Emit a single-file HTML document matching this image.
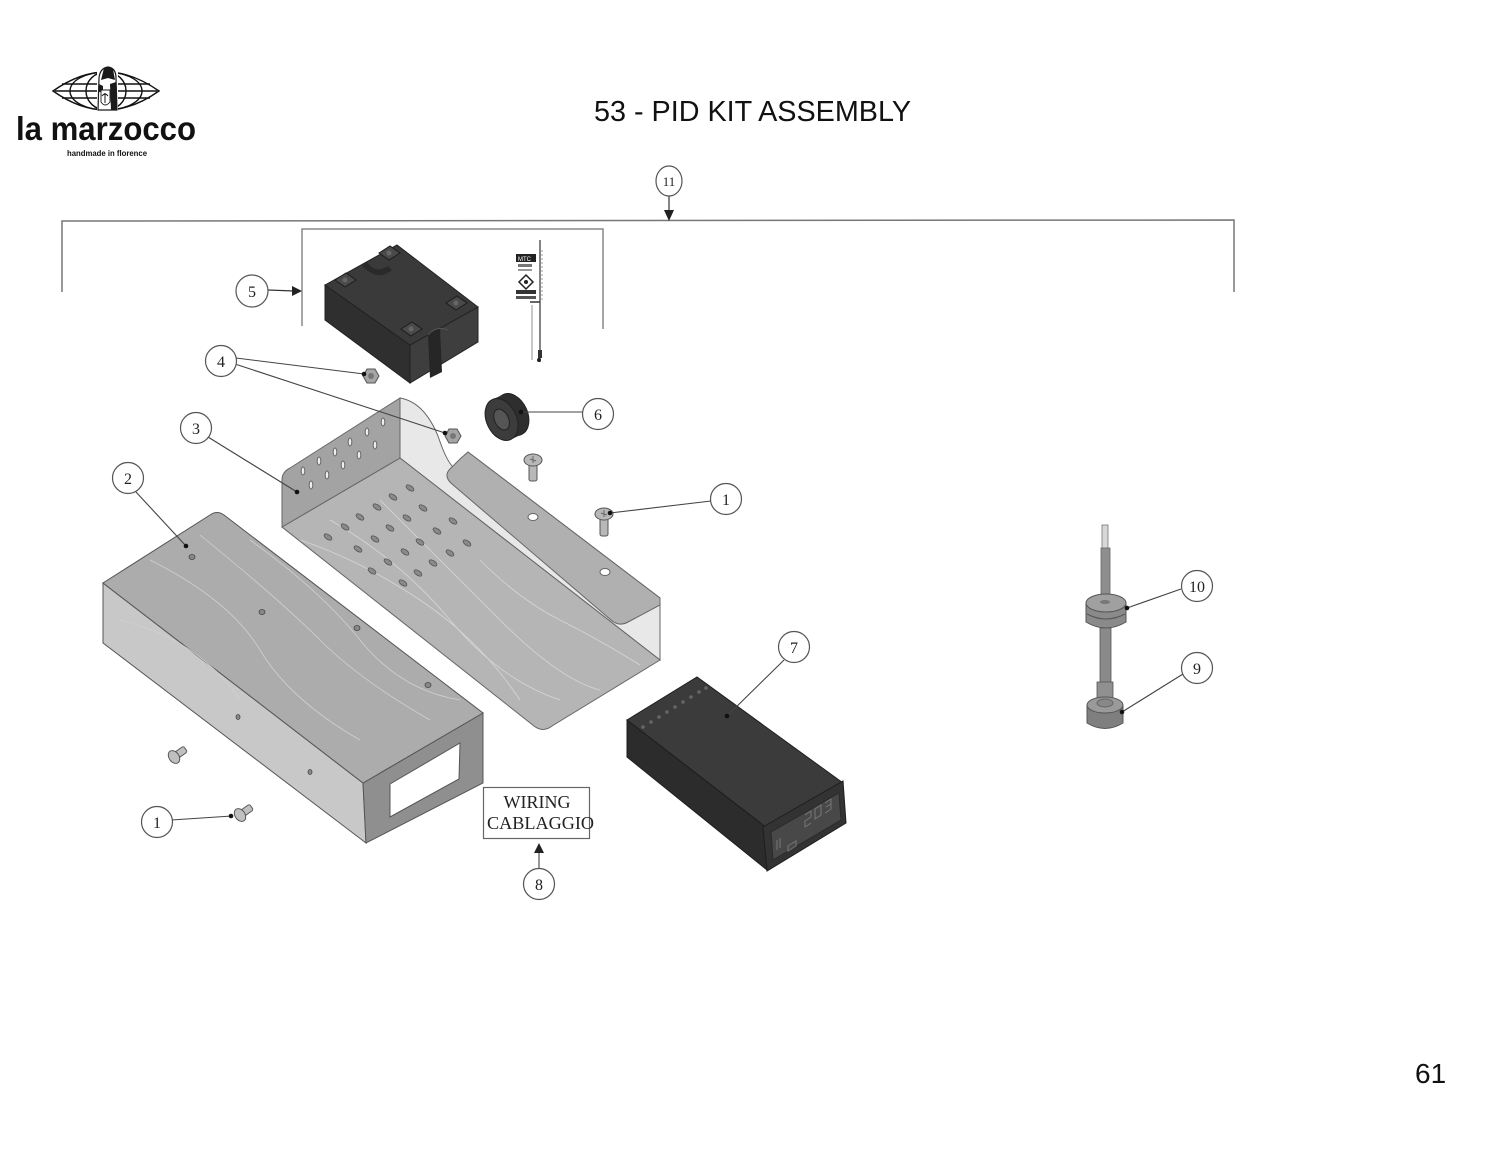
<!DOCTYPE html>
<html>
<head>
<meta charset="utf-8">
<style>
html,body{margin:0;padding:0;background:#fff;}
body{width:1500px;height:1159px;overflow:hidden;}
svg{display:block;}
text{font-family:"Liberation Serif",serif;}
</style>
</head>
<body>
<svg width="1500" height="1159" viewBox="0 0 1500 1159" xmlns="http://www.w3.org/2000/svg">
<rect width="1500" height="1159" fill="#fff"/>

<!-- ===== LOGO ===== -->
<g stroke="#111" fill="none" stroke-width="1.4">
  <path d="M53,91 Q80,72 106,72 Q132,72 159,91 Q132,110 106,110 Q80,110 53,91 Z"/>
  <ellipse cx="106" cy="91" rx="36" ry="19"/>
  <ellipse cx="106" cy="91" rx="20" ry="19"/>
  <line x1="62" y1="84" x2="150" y2="84"/>
  <line x1="55" y1="91" x2="157" y2="91"/>
  <line x1="62" y1="98" x2="150" y2="98"/>
</g>
<rect x="97" y="65" width="21" height="46" fill="#fff"/>
<g stroke="#1a1a1a" stroke-width="1.2" fill="#fff">
  <path d="M99,78 Q100,68 108,67 Q116,68 116,78 L117,110 L98,110 Z"/>
</g>
<g fill="#1a1a1a">
  <path d="M104,68 Q108,66 113,69 L115,80 L108,78 L101,80 Z"/>
  <path d="M110,84 L116,82 L117,110 L111,110 Z"/>
  <path d="M99,84 L103,86 L103,92 L99,92 Z"/>
</g>
<path d="M101,90 L110,90 L110,102 Q105,108 101,102 Z" fill="#fff" stroke="#1a1a1a" stroke-width="0.9"/>
<path d="M105,93 L105,103 M102,96 Q105,92 108,96" stroke="#1a1a1a" stroke-width="1" fill="none"/>
<text x="16" y="140" font-weight="bold" font-size="33" textLength="180" lengthAdjust="spacingAndGlyphs" fill="#111" style="font-family:'Liberation Sans Narrow','Liberation Sans',sans-serif">la marzocco</text>
<text x="67" y="156" font-weight="bold" font-size="8" textLength="80" lengthAdjust="spacingAndGlyphs" fill="#111" style="font-family:'Liberation Sans',sans-serif">handmade in florence</text>

<!-- ===== TITLE ===== -->
<text x="594" y="121" font-size="29" textLength="317" lengthAdjust="spacingAndGlyphs" fill="#111" style="font-family:'Liberation Sans',sans-serif">53 - PID KIT ASSEMBLY</text>
<text x="1415" y="1083" font-size="28" fill="#111" style="font-family:'Liberation Sans',sans-serif">61</text>

<!-- ===== BRACKET 11 ===== -->
<g stroke="#777" stroke-width="1.5" fill="none">
  <polyline points="62,292 62,221 1234,220 1234,292"/>
</g>
<g stroke="#888" stroke-width="1.5" fill="none">
  <polyline points="302,326 302,229 603,229 603,329"/>
</g>
<line x1="669" y1="195" x2="669" y2="212" stroke="#333" stroke-width="1.2"/>
<polygon points="664,210 674,210 669,221" fill="#222"/>
<ellipse cx="669" cy="181" rx="13" ry="15" fill="#fff" stroke="#555" stroke-width="1.2"/>
<text x="669" y="186" font-size="13" text-anchor="middle" fill="#222">11</text>

<!-- ===== PART 5 RELAY ===== -->
<g stroke="#222" stroke-width="1">
  <polygon points="325,285 410,345 410,383 325,320" fill="#2f2f2f"/>
  <polygon points="410,345 478,307 478,342 410,383" fill="#3e3e3e"/>
  <polygon points="325,285 397,245 478,307 410,345" fill="#3a3a3a"/>
</g>
<path d="M367,262 Q375,274 388,266 L392,270 Q378,282 362,266 Z" fill="#2a2a2a"/>
<path d="M428,335 L440,328 L442,372 L430,378 Z" fill="#262626"/>
<path d="M428,335 Q436,325 448,330" stroke="#555" fill="none"/>
<g fill="#4a4a4a" stroke="#1c1c1c" stroke-width="1">
  <polygon points="335,280 346,273 356,280 345,287"/>
  <polygon points="379,253 390,246 400,253 389,260"/>
  <polygon points="446,303 457,296 467,303 456,310"/>
  <polygon points="401,329 412,322 422,329 411,336"/>
</g>
<g fill="#666">
  <circle cx="345" cy="280" r="2.5"/><circle cx="389" cy="253" r="2.5"/>
  <circle cx="456" cy="303" r="2.5"/><circle cx="411" cy="329" r="2.5"/>
</g>
<!-- sticker strip -->
<g>
  <line x1="540" y1="240" x2="540" y2="362" stroke="#333" stroke-width="1.2"/>
  <line x1="542" y1="250" x2="542" y2="300" stroke="#888" stroke-width="0.8" stroke-dasharray="2,2"/>
  <rect x="516" y="254" width="20" height="8" fill="#222"/>
  <text x="518" y="261" font-size="6" fill="#fff" style="font-family:'Liberation Sans',sans-serif">MTC</text>
  <rect x="518" y="264" width="14" height="3" fill="#777"/>
  <rect x="518" y="269" width="14" height="2" fill="#999"/>
  <polygon points="526,275 533,282 526,289 519,282" fill="none" stroke="#222" stroke-width="1.5"/>
  <circle cx="526" cy="282" r="2" fill="#222"/>
  <rect x="516" y="290" width="20" height="4" fill="#333"/>
  <rect x="516" y="296" width="20" height="3" fill="#555"/>
  <line x1="530" y1="302" x2="540" y2="302" stroke="#333" stroke-width="1.5"/>
  <line x1="532" y1="305" x2="532" y2="360" stroke="#777" stroke-width="0.8"/>
  <rect x="538" y="350" width="4" height="8" fill="#333"/>
  <circle cx="539" cy="360" r="2" fill="#222"/>
</g>

<!-- circle 5 -->
<line x1="268" y1="290" x2="294" y2="291" stroke="#333" stroke-width="1.2"/>
<polygon points="292,286 292,296 302,291" fill="#222"/>
<circle cx="252" cy="291" r="16" fill="#fff" stroke="#555" stroke-width="1.2"/>
<text x="252" y="297" font-size="16" text-anchor="middle" fill="#222">5</text>

<!-- ===== PART 3 TRAY ===== -->
<g stroke="#666" stroke-width="1">
  <path d="M400,398 Q424,402 438,436 Q448,466 456,469 L462,467 L468,452 L660,598 L660,660 L400,458 Z" fill="#e8e8e8"/>
  <path d="M282,527 L400,458 L660,660 L552,726 Q543,733 534,726 Z" fill="#b5b5b5"/>
  <path d="M282,527 L282,480 Q282,472 290,468 L400,398 L400,458 Z" fill="#a3a3a3"/>
  <path d="M452,484 Q443,476 450,469 L460,459 L468,452 L660,598 L660,605 L628,622 Q619,627 611,620 Z" fill="#b0b0b0"/>
</g>
<g stroke="#d6d6d6" stroke-width="0.8" fill="none">
  <path d="M300,540 Q360,560 420,600 T520,700"/>
  <path d="M330,520 Q400,560 450,620 T560,700"/>
  <path d="M380,500 Q440,560 500,620 T600,690"/>
  <path d="M480,560 Q520,600 560,620 T640,665"/>
</g>
<ellipse cx="533" cy="517" rx="5" ry="3.5" fill="#fff" stroke="#666"/>
<ellipse cx="605" cy="572" rx="5" ry="3.5" fill="#fff" stroke="#666"/>
<g fill="#eee" stroke="#666" stroke-width="1">
  <ellipse cx="383" cy="422" rx="1.8" ry="4"/><ellipse cx="367" cy="432" rx="1.8" ry="4"/>
  <ellipse cx="350" cy="442" rx="1.8" ry="4"/><ellipse cx="335" cy="452" rx="1.8" ry="4"/>
  <ellipse cx="319" cy="461" rx="1.8" ry="4"/><ellipse cx="303" cy="471" rx="1.8" ry="4"/>
  <ellipse cx="375" cy="445" rx="1.8" ry="4"/><ellipse cx="359" cy="455" rx="1.8" ry="4"/>
  <ellipse cx="343" cy="465" rx="1.8" ry="4"/><ellipse cx="327" cy="475" rx="1.8" ry="4"/>
  <ellipse cx="311" cy="485" rx="1.8" ry="4"/>
</g>
<g fill="#8a8a8a" stroke="#555" stroke-width="0.8">
  <g transform="translate(410,488) rotate(35)"><ellipse rx="4.5" ry="2.3"/></g>
  <g transform="translate(393,497) rotate(35)"><ellipse rx="4.5" ry="2.3"/></g>
  <g transform="translate(377,507) rotate(35)"><ellipse rx="4.5" ry="2.3"/></g>
  <g transform="translate(360,517) rotate(35)"><ellipse rx="4.5" ry="2.3"/></g>
  <g transform="translate(345,527) rotate(35)"><ellipse rx="4.5" ry="2.3"/></g>
  <g transform="translate(328,537) rotate(35)"><ellipse rx="4.5" ry="2.3"/></g>
  <g transform="translate(423,508) rotate(35)"><ellipse rx="4.5" ry="2.3"/></g>
  <g transform="translate(407,518) rotate(35)"><ellipse rx="4.5" ry="2.3"/></g>
  <g transform="translate(390,528) rotate(35)"><ellipse rx="4.5" ry="2.3"/></g>
  <g transform="translate(375,539) rotate(35)"><ellipse rx="4.5" ry="2.3"/></g>
  <g transform="translate(358,549) rotate(35)"><ellipse rx="4.5" ry="2.3"/></g>
  <g transform="translate(453,521) rotate(35)"><ellipse rx="4.5" ry="2.3"/></g>
  <g transform="translate(437,531) rotate(35)"><ellipse rx="4.5" ry="2.3"/></g>
  <g transform="translate(420,542) rotate(35)"><ellipse rx="4.5" ry="2.3"/></g>
  <g transform="translate(405,552) rotate(35)"><ellipse rx="4.5" ry="2.3"/></g>
  <g transform="translate(388,562) rotate(35)"><ellipse rx="4.5" ry="2.3"/></g>
  <g transform="translate(372,571) rotate(35)"><ellipse rx="4.5" ry="2.3"/></g>
  <g transform="translate(467,543) rotate(35)"><ellipse rx="4.5" ry="2.3"/></g>
  <g transform="translate(450,553) rotate(35)"><ellipse rx="4.5" ry="2.3"/></g>
  <g transform="translate(433,563) rotate(35)"><ellipse rx="4.5" ry="2.3"/></g>
  <g transform="translate(418,573) rotate(35)"><ellipse rx="4.5" ry="2.3"/></g>
  <g transform="translate(403,583) rotate(35)"><ellipse rx="4.5" ry="2.3"/></g>
</g>

<!-- nuts (4) -->
<g fill="#a5a5a5" stroke="#555" stroke-width="1">
  <polygon points="363,376 367,369 375,369 379,376 375,383 367,383"/>
  <polygon points="445,436 449,429 457,429 461,436 457,443 449,443"/>
</g>
<circle cx="371" cy="376" r="3" fill="#777"/>
<circle cx="453" cy="436" r="3" fill="#777"/>

<!-- grommet 6 -->
<g transform="translate(507,417) rotate(-25)">
  <ellipse cx="6" cy="0" rx="15" ry="22" fill="#2e2e2e" stroke="#222"/>
  <rect x="-6" y="-22" width="12" height="44" fill="#2e2e2e"/>
  <ellipse cx="-6" cy="0" rx="15" ry="22" fill="#3c3c3c" stroke="#222"/>
  <ellipse cx="-6" cy="0" rx="7" ry="11" fill="#555" stroke="#222"/>
</g>

<!-- screws near tray -->
<g fill="#b8b8b8" stroke="#555" stroke-width="1">
  <rect x="529" y="462" width="8" height="19" rx="2"/>
  <ellipse cx="533" cy="460" rx="9" ry="6"/>
  <rect x="600" y="516" width="8" height="20" rx="2"/>
  <ellipse cx="604" cy="514" rx="9" ry="6"/>
</g>
<path d="M530,459 L536,461 M533,456 L533,463" stroke="#666" stroke-width="1"/>
<path d="M601,513 L607,515 M604,510 L604,517" stroke="#666" stroke-width="1"/>

<!-- ===== PART 2 BOX ===== -->
<g stroke="#555" stroke-width="1">
  <path d="M103,643 L103,583 L363,783 L366,843 Z" fill="#c8c8c8"/>
  <path d="M363,783 L483,713 L483,783 L366,843 Z" fill="#8f8f8f"/>
  <path d="M210,515 Q217,510 224,515 L483,713 L363,783 L103,583 Z" fill="#acacac"/>
  <path d="M390,784 L460,743 L459,779 L390,817 Z" fill="#fff" stroke="#555"/>
</g>
<g stroke="#d0d0d0" stroke-width="0.8" fill="none">
  <path d="M150,560 Q230,600 260,650 T360,740"/>
  <path d="M200,535 Q280,600 320,640 T430,720"/>
  <path d="M250,540 Q320,590 360,640 T460,700"/>
  <path d="M120,620 Q200,640 240,700"/>
</g>
<g fill="#888" stroke="#444" stroke-width="0.8">
  <ellipse cx="192" cy="557" rx="3" ry="2.5"/>
  <ellipse cx="262" cy="612" rx="3" ry="2.5"/>
  <ellipse cx="357" cy="628" rx="3" ry="2.5"/>
  <ellipse cx="428" cy="685" rx="3" ry="2.5"/>
  <ellipse cx="238" cy="717" rx="2" ry="2.5"/>
  <ellipse cx="310" cy="772" rx="2" ry="2.5"/>
</g>

<!-- screws lower left -->
<g fill="#c0c0c0" stroke="#555" stroke-width="1">
  <g transform="translate(174,757) rotate(-35)">
    <rect x="0" y="-3.5" width="14" height="7" rx="2"/>
    <ellipse cx="0" cy="0" rx="5" ry="7"/>
  </g>
  <g transform="translate(240,815) rotate(-35)">
    <rect x="0" y="-3.5" width="14" height="7" rx="2"/>
    <ellipse cx="0" cy="0" rx="5" ry="7"/>
  </g>
</g>

<!-- ===== PART 7 CONTROLLER ===== -->
<g stroke="#1e1e1e" stroke-width="1">
  <polygon points="627,720 767,828 767,870 627,757" fill="#2c2c2c"/>
  <polygon points="627,720 697,677 843,783 767,828" fill="#3b3b3b"/>
  <polygon points="763,827 843,781 846,823 767,871" fill="#333"/>
  <polygon points="771,832 839,793 841,820 773,860" fill="#484848" stroke="#2a2a2a"/>
</g>
<g fill="#666">
  <circle cx="643" cy="727" r="1.8"/><circle cx="651" cy="722" r="1.8"/>
  <circle cx="659" cy="717" r="1.8"/><circle cx="667" cy="712" r="1.8"/>
  <circle cx="675" cy="707" r="1.8"/><circle cx="683" cy="702" r="1.8"/>
  <circle cx="691" cy="697" r="1.8"/><circle cx="699" cy="692" r="1.8"/>
  <circle cx="706" cy="688" r="1.8"/>
</g>
<g stroke="#777" stroke-width="1" fill="none">
  <path d="M805,815 l6,-4 l0,6 l-6,4 l0,6 l6,-4"/>
  <path d="M815,809 l6,-4 l0,10 l-6,4 Z"/>
  <path d="M825,803 l6,-4 l0,5 l-5,3 l5,-3 l0,5 l-6,4"/>
  <path d="M788,846 l8,-5 l0,5 l-8,5 Z"/>
  <path d="M777,850 l0,-10 M780,848 l0,-10"/>
</g>

<!-- ===== PROBE 9/10 ===== -->
<rect x="1102" y="525" width="6" height="24" fill="#d8d8d8" stroke="#777" stroke-width="0.8"/>
<rect x="1101" y="548" width="9" height="52" fill="#8e8e8e" stroke="#666" stroke-width="0.8"/>
<path d="M1086,603 L1086,622 Q1106,634 1126,622 L1126,603 Z" fill="#8a8a8a" stroke="#555"/>
<path d="M1087,614 Q1106,624 1125,614" stroke="#555" fill="none"/>
<ellipse cx="1106" cy="603" rx="20" ry="9" fill="#a0a0a0" stroke="#555"/>
<ellipse cx="1105" cy="602" rx="5" ry="2" fill="#777"/>
<rect x="1100" y="628" width="11" height="55" fill="#8a8a8a" stroke="#555" stroke-width="0.8"/>
<rect x="1097" y="682" width="16" height="20" fill="#909090" stroke="#555" stroke-width="0.8"/>
<path d="M1087,705 L1087,723 Q1105,734 1123,723 L1123,705 Z" fill="#7f7f7f" stroke="#555"/>
<ellipse cx="1105" cy="705" rx="18" ry="8" fill="#9a9a9a" stroke="#555"/>
<ellipse cx="1105" cy="703" rx="8" ry="4" fill="#888" stroke="#666"/>

<!-- ===== LEADER LINES ===== -->
<g stroke="#444" stroke-width="1.1" fill="none">
  <line x1="236" y1="358" x2="364" y2="374"/>
  <line x1="235" y1="364" x2="445" y2="433"/>
  <line x1="208" y1="437" x2="297" y2="492"/>
  <line x1="136" y1="492" x2="186" y2="546"/>
  <line x1="582" y1="412" x2="521" y2="412"/>
  <line x1="711" y1="501" x2="610" y2="513"/>
  <line x1="141" y1="822" x2="232" y2="816"/>
  <line x1="784" y1="660" x2="727" y2="716"/>
  <line x1="1181" y1="589" x2="1127" y2="608"/>
  <line x1="1183" y1="674" x2="1122" y2="712"/>
  <line x1="539" y1="868" x2="539" y2="852"/>
</g>
<polygon points="534,853 544,853 539,843" fill="#222"/>
<g fill="#111">
  <circle cx="364" cy="374" r="2.3"/>
  <circle cx="445" cy="433" r="2.3"/>
  <circle cx="297" cy="492" r="2.3"/>
  <circle cx="186" cy="546" r="2.3"/>
  <circle cx="521" cy="412" r="2.3"/>
  <circle cx="610" cy="513" r="2.3"/>
  <circle cx="231" cy="816" r="2.3"/>
  <circle cx="727" cy="716" r="2.3"/>
  <circle cx="1127" cy="608" r="2.3"/>
  <circle cx="1122" cy="712" r="2.3"/>
</g>

<!-- ===== LABEL CIRCLES ===== -->
<g fill="#fff" stroke="#555" stroke-width="1.2">
  <circle cx="221" cy="361" r="15.5"/>
  <circle cx="196" cy="428" r="15.5"/>
  <circle cx="128" cy="478" r="15.5"/>
  <circle cx="598" cy="414" r="15.5"/>
  <circle cx="726" cy="499" r="15.5"/>
  <circle cx="157" cy="822" r="15.5"/>
  <circle cx="794" cy="647" r="15.5"/>
  <circle cx="539" cy="884" r="15.5"/>
  <circle cx="1197" cy="586" r="15.5"/>
  <circle cx="1197" cy="668" r="15.5"/>
</g>
<g font-size="16" text-anchor="middle" fill="#222">
  <text x="221" y="367">4</text>
  <text x="196" y="434">3</text>
  <text x="128" y="484">2</text>
  <text x="598" y="420">6</text>
  <text x="726" y="505">1</text>
  <text x="157" y="828">1</text>
  <text x="794" y="653">7</text>
  <text x="539" y="890">8</text>
  <text x="1197" y="592">10</text>
  <text x="1197" y="674">9</text>
</g>

<!-- ===== WIRING BOX ===== -->
<rect x="483.5" y="787.5" width="106" height="51" fill="#fff" stroke="#666" stroke-width="1.2"/>
<text x="537" y="808" font-size="18" text-anchor="middle" fill="#222">WIRING</text>
<text x="487" y="829" font-size="18" textLength="107" lengthAdjust="spacingAndGlyphs" fill="#222">CABLAGGIO</text>

</svg>
</body>
</html>
